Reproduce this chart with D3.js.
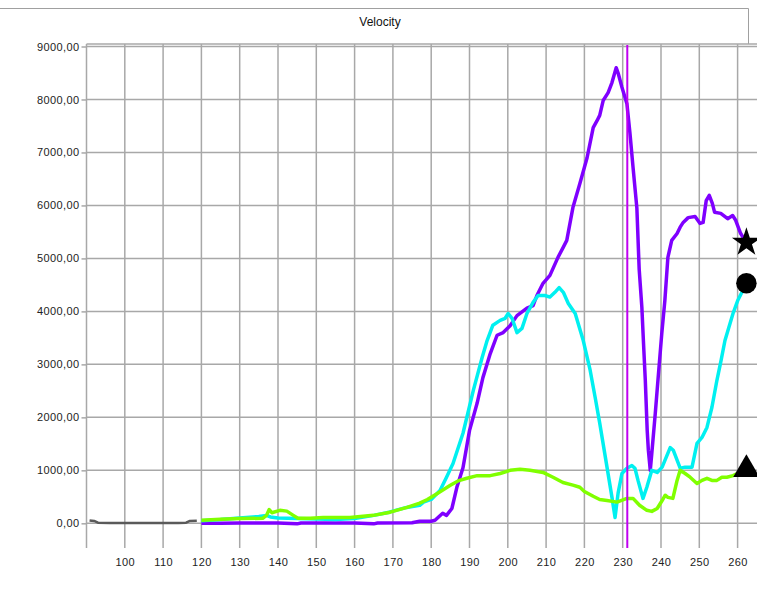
<!DOCTYPE html>
<html><head><meta charset="utf-8">
<script src="https://cdn.jsdelivr.net/npm/d3@7"></script>
<style>html,body{margin:0;padding:0;background:#fff;overflow:hidden}</style>
</head><body>
<script>
const title = "Velocity";
const yTicks = [0,1000,2000,3000,4000,5000,6000,7000,8000,9000];
const xTicks = [100,110,120,130,140,150,160,170,180,190,200,210,220,230,240,250,260];
const cursorX = 231.2;

const grayX = [90.8,92,93,96,100,105,110,114,116,117,118.8];
const grayY = [55,45,12,5,5,5,5,8,12,45,50];

const purpleX = [120,125,130,135,140,145,146,150,160,165,166,175,177,180,181,183,184,185.4,186.7,188.3,190,192,193.5,195.4,197.2,198.8,200.6,202.4,205,206.6,207.6,209.2,211,213.1,214.4,215.4,217,218.8,220.7,222.3,223.3,224,224.9,226.2,227.2,228.3,228.8,229.8,231.1,231.9,232.7,233.7,234.3,235,235.4,235.9,236.4,236.7,237.2,237.6,238.5,239.2,240.2,241,241.8,242.8,244.2,245,245.8,247.1,248.9,250.2,251,251.8,252.6,253.4,254,255.6,257.4,258.7,259.5,260.8,262.3];
const purpleY = [0,0,5,5,5,-10,5,5,5,-10,5,10,40,40,57,190,150,280,680,1050,1750,2270,2750,3200,3550,3600,3730,3920,4060,4110,4300,4530,4680,5020,5200,5340,5960,6410,6900,7470,7600,7700,7980,8130,8320,8600,8500,8230,7920,7360,6720,5950,4800,4080,3450,2700,1750,1380,1000,1320,2070,2700,3580,4200,5020,5340,5470,5590,5680,5770,5790,5660,5680,6090,6190,6040,5870,5850,5750,5810,5720,5470,5300];

const cyanX = [120,125,130,135,137,138,140,145,150,155,160,165,169,173.6,177,178,180,182.3,184,185.7,188.3,191,193.3,194.6,196.1,198,199.3,200.1,201.1,202.4,203.7,205,206.6,207.9,209.7,211,212.3,213.4,214.5,215.8,217.6,219.7,221.5,222.8,224,225.9,227.2,228,228.8,229.8,231.1,232.4,233.2,234,235.3,236.3,237.6,239,240.3,242.4,243.2,245,246.3,248.1,249.4,250.7,252,253.3,254.6,255.7,256.7,258.8,260,262.3];
const cyanY = [50,70,100,130,150,120,100,90,80,70,90,150,210,300,340,400,450,620,870,1130,1700,2510,3130,3450,3740,3830,3870,3960,3870,3600,3680,3960,4170,4300,4300,4270,4360,4450,4360,4150,3960,3450,2890,2380,1890,1060,490,110,570,940,1040,1090,1040,810,470,680,1000,960,1060,1430,1380,1040,1060,1060,1510,1620,1810,2190,2700,3080,3450,3960,4200,4530];

const greenX = [120,125,130,136,137,137.7,138.4,140.5,142.3,144,145.2,148.4,151.8,158.8,164.9,169.3,173.7,177,179,181.5,185,187,189.3,192,195.4,198,200.6,203.2,205.8,209.2,211.8,214.4,217,218.8,220,222.3,224,225.9,228.5,231.1,232.7,234.4,236.3,237.6,239,240.3,241.1,241.8,243.1,244.2,245,246.3,247.6,249.4,250.7,252,253.3,254.6,255.9,257.2,258.8,260.6,262.3];
const greenY = [57,75,90,95,150,260,200,245,230,150,95,95,110,110,150,210,300,380,450,560,720,800,850,900,900,940,1000,1020,1000,960,870,770,720,680,600,510,450,430,400,470,470,340,245,225,280,430,530,490,470,810,1000,940,870,750,810,850,810,810,870,870,900,960,980];

const W = 757, H = 595;
const svg = d3.select("body").append("svg").attr("width", W).attr("height", H)
  .style("font-family", "'Liberation Sans', Arial, sans-serif");

const x = d3.scaleLinear().domain([90, 270]).range([86.5, 86.5 + 180 * 3.83]);
const y = d3.scaleLinear().domain([-500, 9000]).range([549.8, 46.5]);
const plotLeft = 86.5, plotRight = W, plotTop = 44, plotBottom = 548;

svg.append("path").attr("d", `M0,8.5 H748.5 V44`).attr("fill","none").attr("stroke","#a0a0a0").attr("stroke-width",1);

svg.append("text").attr("x", 380).attr("y", 26).attr("text-anchor","middle")
  .attr("font-size", 12).attr("fill", "#111").text(title);

const grid = svg.append("g").attr("stroke", "#a8a8a8").attr("stroke-width", 1.5);
yTicks.forEach(t => grid.append("line").attr("x1", plotLeft).attr("x2", plotRight)
  .attr("y1", y(t)).attr("y2", y(t)));
xTicks.forEach(t => grid.append("line").attr("x1", x(t)).attr("x2", x(t))
  .attr("y1", plotTop).attr("y2", plotBottom));
grid.append("line").attr("x1", plotLeft).attr("x2", plotRight).attr("y1", plotTop).attr("y2", plotTop);
grid.append("line").attr("x1", plotLeft).attr("x2", plotLeft).attr("y1", plotTop).attr("y2", plotBottom);

const fmt = v => d3.format("d")(v) + ",00";
const yAxis = d3.axisLeft(y).tickValues(yTicks).tickFormat(fmt).tickSize(5).tickPadding(2);
const gy = svg.append("g").attr("transform", `translate(${plotLeft},0)`).call(yAxis);
gy.select(".domain").remove();
gy.selectAll(".tick line").attr("stroke", "#a8a8a8").attr("stroke-width", 1.5);
gy.selectAll(".tick text").attr("font-size", 11).attr("fill", "#222")
  .attr("font-family", "'Liberation Sans', Arial, sans-serif").style("letter-spacing", "0.4px");

const xAxis = d3.axisBottom(x).tickValues(xTicks).tickFormat(d3.format("d")).tickSize(0).tickPadding(10);
const gx = svg.append("g").attr("transform", `translate(0,${plotBottom})`).call(xAxis);
gx.select(".domain").remove();
gx.selectAll(".tick text").attr("font-size", 11).attr("fill", "#222")
  .attr("font-family", "'Liberation Sans', Arial, sans-serif").style("letter-spacing", "0.4px");

const line = d3.line().x(d => x(d[0])).y(d => y(d[1]));
function draw(xs, ys, color, w) {
  svg.append("path").datum(xs.map((v, i) => [v, ys[i]]))
    .attr("d", line).attr("fill", "none").attr("stroke", color)
    .attr("stroke-width", w).attr("stroke-linejoin", "round");
}
draw(grayX, grayY, "#5a5a5a", 2.5);
draw(purpleX, purpleY, "#7f00ff", 3.5);
draw(cyanX, cyanY, "#00f0f0", 3.5);
draw(greenX, greenY, "#80ff00", 3.5);

svg.append("line").attr("x1", x(cursorX)).attr("x2", x(cursorX))
  .attr("y1", plotTop + 1).attr("y2", plotBottom).attr("stroke", "#c000f0").attr("stroke-width", 2);

const lp = purpleX.length - 1, lc = cyanX.length - 1, lg = greenX.length - 1;
svg.append("path").attr("d", d3.symbol(d3.symbolStar, 260)())
  .attr("transform", `translate(${x(purpleX[lp])},${y(purpleY[lp])})`).attr("fill", "#000");
svg.append("path").attr("d", d3.symbol(d3.symbolCircle, 330)())
  .attr("transform", `translate(${x(cyanX[lc])},${y(cyanY[lc])})`).attr("fill", "#000");
svg.append("path").attr("d", d3.symbol(d3.symbolTriangle, 300)())
  .attr("transform", `translate(${x(greenX[lg])},${y(greenY[lg]) - 2})`).attr("fill", "#000");
</script>
</body></html>
